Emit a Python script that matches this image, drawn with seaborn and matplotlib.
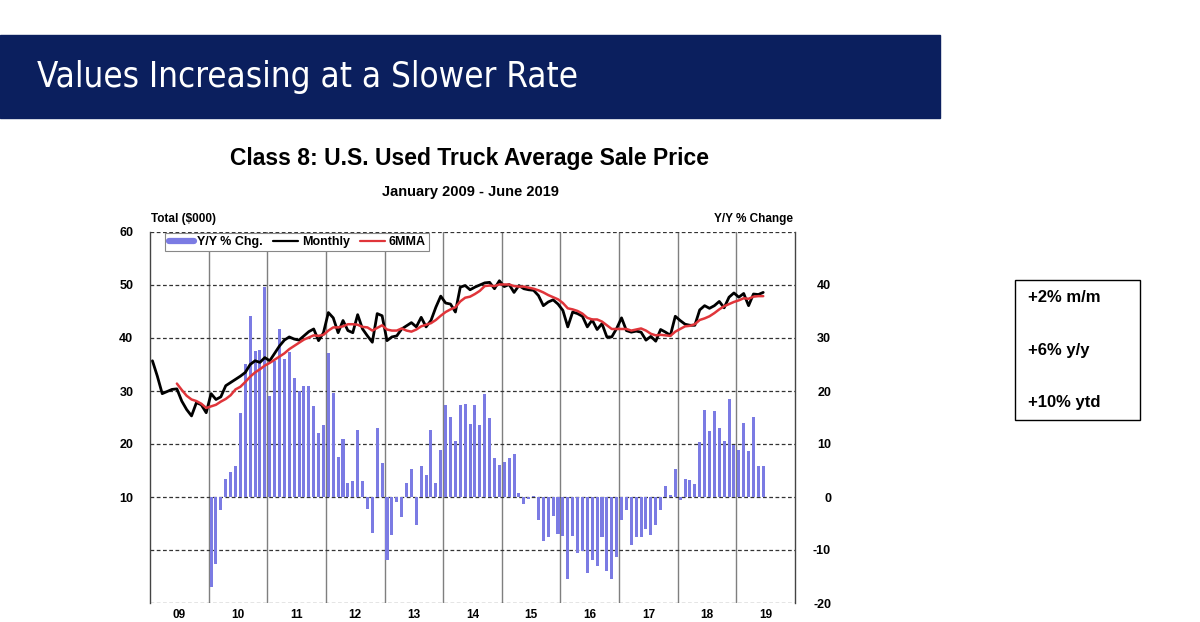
import pandas as pd
import matplotlib.pyplot as plt
import seaborn as sns
from matplotlib import font_manager
from matplotlib.lines import Line2D
from matplotlib.patches import Rectangle

# Class 8 used truck average sale price ($000), Jan 2009 - Jun 2019
monthly = [
    35.7, 32.8, 29.5, 29.9, 30.3, 30.4, 28.1, 26.5, 25.3, 27.8, 27.4, 25.9,
    29.5, 28.4, 28.9, 31.0, 31.6, 32.2, 32.8, 33.5, 35.0, 35.7, 35.4, 36.3,
    35.7, 37.1, 38.5, 39.6, 40.2, 39.8, 39.6, 40.4, 41.2, 41.7, 39.5, 41.0,
    44.8, 43.8, 41.0, 43.3, 41.4, 41.0, 44.4, 41.7, 40.4, 39.2, 44.6, 44.2,
    39.5, 40.2, 40.4, 41.7, 42.3, 42.9, 42.1, 43.9, 42.1, 43.3, 45.8, 47.9,
    46.6, 46.4, 44.9, 49.6, 49.9, 49.1, 49.6, 50.0, 50.4, 50.5, 49.3, 50.8,
    49.7, 50.1, 48.6, 49.9, 49.3, 49.1, 49.0, 48.0, 46.1, 46.8, 47.2, 46.4,
    45.2, 42.1, 44.9, 44.6, 44.1, 42.1, 43.4, 41.6, 42.7, 40.2, 40.2, 41.8,
    43.8, 41.4, 41.1, 41.3, 41.1, 39.6, 40.3, 39.4, 41.6, 41.1, 40.5, 44.1,
    43.3, 42.6, 42.4, 42.4, 45.3, 46.1, 45.6, 46.1, 46.9, 45.7, 47.7, 48.5,
    47.7, 48.4, 46.1, 48.3, 48.2, 48.6,
]

# 6-month moving average, Jun 2009 - Jun 2019
mma6 = [
    31.4, 30.2, 29.1, 28.4, 28.1, 27.6, 26.8,
    27.1, 27.4, 28.0, 28.5, 29.2, 30.3, 30.8, 31.7, 32.7, 33.5, 34.1, 34.8,
    35.3, 35.9, 36.5, 37.1, 37.9, 38.5, 39.1, 39.7, 40.1, 40.5, 40.4, 40.6,
    41.4, 42.0, 42.0, 42.2, 42.6, 42.6, 42.5, 42.1, 42.0, 41.4, 41.9, 42.4,
    41.6, 41.4, 41.4, 41.8, 41.4, 41.2, 41.6, 42.2, 42.5, 42.8, 43.4, 44.2,
    44.9, 45.4, 45.8, 46.9, 47.6, 47.8, 48.3, 48.9, 49.8, 49.9, 49.8, 50.1,
    50.1, 50.1, 49.8, 49.7, 49.7, 49.5, 49.3, 49.0, 48.6, 48.1, 47.7, 47.3,
    46.6, 45.6, 45.4, 45.1, 44.6, 43.8, 43.5, 43.5, 43.1, 42.4, 41.7, 41.7,
    41.7, 41.7, 41.4, 41.6, 41.8, 41.4, 40.8, 40.5, 40.6, 40.5, 40.4, 41.2,
    41.7, 42.2, 42.3, 42.6, 43.4, 43.7, 44.1, 44.7, 45.4, 46.0, 46.4, 46.8,
    47.1, 47.5, 47.4, 47.8, 47.9, 47.9,
]

# Y/Y % change, Jan 2010 - Jun 2019
yoy = [
    -17.0, -12.6, -2.5, 3.4, 4.7, 5.8, 15.9, 25.1, 34.2, 27.5, 27.7, 39.7,
    19.0, 25.7, 31.7, 26.0, 27.3, 22.5, 20.0, 20.9, 20.9, 17.1, 12.0, 13.6,
    27.1, 19.7, 7.6, 10.9, 2.6, 3.1, 12.6, 3.1, -2.2, -6.7, 13.0, 6.4,
    -11.8, -7.2, -1.0, -3.8, 2.6, 5.3, -5.3, 5.8, 4.2, 12.6, 2.6, 8.9,
    17.3, 15.1, 10.5, 17.4, 17.6, 13.8, 17.4, 13.6, 19.4, 14.9, 7.3, 6.1,
    6.6, 7.3, 8.1, 0.8, -1.3, -0.3, 0.2, -4.4, -8.3, -7.5, -3.6, -7.0,
    -7.4, -15.5, -7.4, -10.5, -10.1, -14.3, -11.9, -13.1, -7.6, -13.9, -15.5, -11.4,
    -4.3, -2.5, -9.1, -7.6, -7.6, -6.1, -7.2, -5.2, -2.5, 2.0, 0.3, 5.3,
    -0.6, 3.4, 3.3, 2.4, 10.3, 16.4, 12.4, 16.3, 13.0, 10.5, 18.4, 9.9,
    8.9, 13.9, 8.6, 15.1, 5.8, 5.9,
]

year_labels = ['09', '10', '11', '12', '13', '14', '15', '16', '17', '18', '19']
summary = ['+2% m/m', '+6% y/y', '+10% ytd']

# x in months since Jan 2009, bar/point at the middle of each month
months = pd.period_range('2009-01', '2019-06', freq='M')
xpos = (months.year - 2009) * 12 + months.month - 0.5

df = pd.DataFrame({'x': xpos, 'monthly': monthly})
df_ma = pd.DataFrame({'x': xpos[5:], 'mma': mma6})
df_yoy = pd.DataFrame({'x': xpos[12:], 'yoy': yoy})

BAR = '#7b7be3'
RED = '#e0353a'
NAVY = '#0b1f5e'

sns.set_style('white')
plt.rcParams['font.family'] = ['Liberation Sans', 'DejaVu Sans']
plt.rcParams['text.color'] = 'black'
plt.rcParams['xtick.color'] = 'black'
plt.rcParams['ytick.color'] = 'black'

# pick a regular-weight narrow face for the banner if one is installed
narrow = None
for f in font_manager.fontManager.ttflist:
    is_narrow = 'Narrow' in f.name or 'Condensed' in f.name or f.stretch == 'condensed'
    if is_narrow and f.weight in (400, 'normal', 'regular', 'book') and f.style == 'normal':
        narrow = f
        break

fig = plt.figure(figsize=(12, 6.22), dpi=100)

# banner
fig.patches.append(Rectangle((0, 1 - 118 / 622), 940 / 1200, 83 / 622,
                             transform=fig.transFigure, color=NAVY, zorder=0))
if narrow is not None:
    banner_kw = dict(fontproperties=font_manager.FontProperties(
        fname=narrow.fname, size=25))
else:
    banner_kw = dict(family='DejaVu Sans', fontsize=22)
fig.text(37 / 1200, 1 - 77 / 622, 'Values Increasing at a Slower Rate',
         color='white', va='center', ha='left', **banner_kw)

# titles
fig.text(470 / 1200, 1 - 158 / 622, 'Class 8: U.S. Used Truck Average Sale Price',
         fontsize=16.5, fontweight='bold', ha='center', va='center')
fig.text(470 / 1200, 1 - 192 / 622, 'January 2009 - June 2019',
         fontsize=10.5, fontweight='bold', ha='center', va='center')
fig.text(151 / 1200, 1 - 219 / 622, 'Total ($000)', fontsize=8.5,
         fontweight='bold', ha='left', va='center')
fig.text(793 / 1200, 1 - 219 / 622, 'Y/Y % Change', fontsize=8.5,
         fontweight='bold', ha='right', va='center')

ax = fig.add_axes([150 / 1200, 19 / 622, 645 / 1200, 371 / 622])
sns.barplot(data=df_yoy, x='x', y='yoy', native_scale=True, width=0.62,
            color=BAR, saturation=1, errorbar=None, linewidth=0, ax=ax, zorder=2)
ax.set_xlim(0, 132)
ax.set_ylim(-20, 50)

ax.set_xticks(range(12, 132, 12))
ax.set_xticklabels([])
ax.set_xticks(range(6, 132, 12), minor=True)
ax.set_xticklabels(year_labels, minor=True, fontsize=8.5, fontweight='bold')
ax.tick_params(axis='x', which='both', length=0, pad=4)
ax.xaxis.grid(True, which='major', color='#7f7f7f', ls='-', lw=1)
ax.yaxis.grid(True, color='#333333', ls=(0, (3, 2)), lw=0.9)
ax.set_axisbelow(True)
ax.set_xlabel('')
ax.set_ylabel('')
for side in ['top', 'bottom']:
    ax.spines[side].set_visible(False)
for side in ['left', 'right']:
    ax.spines[side].set_color('#444444')
    ax.spines[side].set_linewidth(1)

ax2 = ax.twinx()
sns.lineplot(data=df, x='x', y='monthly', color='black', lw=2, ax=ax2)
sns.lineplot(data=df_ma, x='x', y='mma', color=RED, lw=1.8, ax=ax2)
ax2.set_xlim(0, 132)
ax2.set_ylim(-10, 60)
ax2.set_yticks(range(10, 61, 10))
ax2.set_ylabel('')
ax2.set_xlabel('')
for side in ['top', 'bottom', 'left', 'right']:
    ax2.spines[side].set_visible(False)

# bars' scale on the right, price scale on the left
ax.yaxis.tick_right()
ax.set_yticks(range(-20, 51, 10))
ax.set_yticklabels([str(v) for v in range(-20, 41, 10)] + [''])
ax.tick_params(axis='y', length=0, pad=26, labelsize=9)
for lab in ax.get_yticklabels():
    lab.set_ha('right')
    lab.set_fontweight('bold')
ax2.yaxis.tick_left()
ax2.tick_params(axis='y', length=0, pad=12, labelsize=9)
for lab in ax2.get_yticklabels():
    lab.set_fontweight('bold')

handles = [Line2D([0], [0], color=BAR, lw=4.5),
           Line2D([0], [0], color='black', lw=1.6),
           Line2D([0], [0], color=RED, lw=1.6)]
leg = ax2.legend(handles, ['Y/Y % Chg.', 'Monthly', '6MMA'], ncol=3,
                 loc='upper left', bbox_to_anchor=(0.022, 1.0),
                 frameon=True, fancybox=False, framealpha=1, edgecolor='#888888',
                 prop={'weight': 'bold', 'size': 9}, handlelength=2.0,
                 handletextpad=0.3, columnspacing=0.8, borderpad=0.25,
                 borderaxespad=0.1)
leg.get_frame().set_linewidth(0.8)

# summary box
fig.patches.append(Rectangle((1015 / 1200, 1 - 420 / 622), 125 / 1200, 140 / 622,
                             transform=fig.transFigure, fill=False,
                             edgecolor='black', lw=1))
for txt, ypix in zip(summary, [298, 351, 402]):
    fig.text(1028 / 1200, 1 - ypix / 622, txt, fontsize=12, fontweight='bold',
             ha='left', va='center')

fig.savefig('out.png', dpi=100)
